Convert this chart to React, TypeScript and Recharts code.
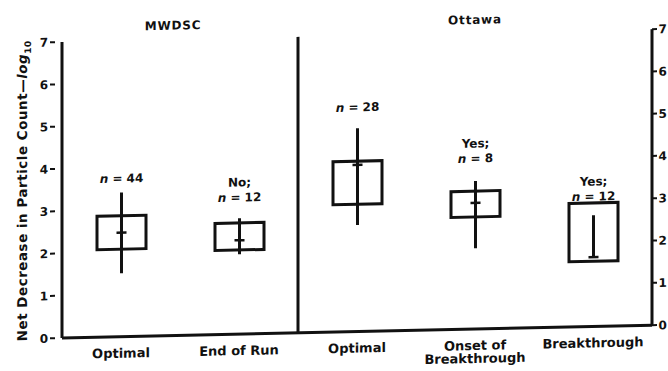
import { ComposedChart, Bar, Line, XAxis, YAxis, ReferenceLine } from "recharts";

// two sites, five operating conditions
const groups = ["MWDSC", "MWDSC", "Ottawa", "Ottawa", "Ottawa"];
const categories = ["Optimal", "End of Run", "Optimal", "Onset of\nBreakthrough", "Breakthrough"];

// log10 decrease in particle count
const boxLow = [2.07, 1.99, 3.01, 2.65, 1.54];
const boxHigh = [2.86, 2.63, 4.03, 3.26, 2.92];
const whiskerLow = [1.5, 1.89, 2.52, 1.91, 1.64];
const whiskerHigh = [3.41, 2.74, 4.81, 3.5, 2.63];
const centre = [2.46, 2.22, 3.94, 2.98, 1.64];

// annotations above each box, anchored at a log10 value
const notes = [["n = 44"], ["No;", "n = 12"], ["n = 28"], ["Yes;", "n = 8"], ["Yes;", "n = 12"]];
const noteAt = [3.75, 3.24, 5.31, 4.04, 3.08];

const yTicks = [0, 1, 2, 3, 4, 5, 6, 7];

const FONT = "'DejaVu Sans', 'Liberation Sans', Arial, sans-serif";
const INK = "#111";

const data = categories.map((c, i) => ({
  key: `${groups[i]} ${c}`,
  box: [boxLow[i], boxHigh[i]],
  lo: whiskerLow[i],
  hi: whiskerHigh[i],
  mid: centre[i],
  note: notes[i],
  noteAt: noteAt[i],
}));

function NoteLine({ text, x, y }: { text: string; x: number; y: number }) {
  // italic "n" like the original
  if (text.startsWith("n ")) {
    return (
      <text x={x} y={y} textAnchor="middle" fontFamily={FONT} fontSize={12} fontWeight="bold" fill={INK}>
        <tspan fontStyle="italic">n</tspan>
        {text.slice(1)}
      </text>
    );
  }
  return (
    <text x={x} y={y} textAnchor="middle" fontFamily={FONT} fontSize={12} fontWeight="bold" fill={INK}>
      {text}
    </text>
  );
}

function BoxShape(props: any) {
  const { x, y, width, height, payload } = props;
  const [lo, hi] = payload.box;
  const top = Math.min(y, y + height);
  const h = Math.abs(height);
  const ppu = h / (hi - lo);
  const toY = (v: number) => top + (hi - v) * ppu;
  const cx = x + width / 2;
  const lines: string[] = payload.note;
  const base = toY(payload.noteAt) + 4.4;

  return (
    <g>
      <rect x={x} y={top} width={width} height={h} fill="none" stroke={INK} strokeWidth={3} />
      <line x1={cx} x2={cx} y1={toY(payload.hi)} y2={toY(payload.lo)} stroke={INK} strokeWidth={3} />
      <line x1={cx - 5} x2={cx + 5} y1={toY(payload.mid)} y2={toY(payload.mid)} stroke={INK} strokeWidth={2.5} />
      {lines.map((t, i) => (
        <NoteLine key={t} text={t} x={cx} y={base - (lines.length - 1 - i) * 15} />
      ))}
    </g>
  );
}

function XTick(props: any) {
  const { x, y, index } = props;
  const lines = categories[index].split("\n");
  return (
    <g>
      {lines.map((t, i) => (
        <text
          key={t}
          x={x}
          y={y + 21 + i * 13}
          textAnchor="middle"
          fontFamily={FONT}
          fontSize={13}
          fontWeight="bold"
          fill={INK}
        >
          {t}
        </text>
      ))}
    </g>
  );
}

function LeftTick(props: any) {
  const { x, y, payload } = props;
  return (
    <g>
      <line x1={x - 12} x2={x - 7} y1={y} y2={y} stroke={INK} strokeWidth={2} />
      <text x={x - 14} y={y + 4.4} textAnchor="end" fontFamily={FONT} fontSize={12} fontWeight="bold" fill={INK}>
        {payload.value}
      </text>
    </g>
  );
}

function RightTick(props: any) {
  const { x, y, payload } = props;
  return (
    <g>
      <line x1={x} x2={x + 5} y1={y} y2={y} stroke={INK} strokeWidth={2} />
      <text x={x + 6.5} y={y + 4.4} textAnchor="start" fontFamily={FONT} fontSize={12} fontWeight="bold" fill={INK}>
        {payload.value}
      </text>
    </g>
  );
}

function YTitle() {
  return (
    <text
      transform="translate(26.5,190) rotate(-90)"
      textAnchor="middle"
      fontFamily={FONT}
      fontSize={13.5}
      fontWeight="bold"
      letterSpacing={0.5}
      fill={INK}
    >
      Net Decrease in Particle Count—<tspan fontStyle="italic">log</tspan>
      <tspan fontSize={9} dy={4}>
        10
      </tspan>
    </text>
  );
}

const titleStyle: React.CSSProperties = {
  position: "absolute",
  top: 22,
  transform: "translateX(-50%)",
  fontFamily: FONT,
  fontSize: 12,
  lineHeight: "12px",
  fontWeight: "bold",
  letterSpacing: 0.8,
  color: INK,
  whiteSpace: "nowrap",
};

export default function App() {
  return (
    <div
      style={{
        position: "absolute",
        left: 0,
        top: 0,
        width: 668,
        height: 371,
        overflow: "hidden",
        background: "#fff",
      }}
    >
      {/* the scan is sheared slightly; the whole figure leans up to the right */}
      <div
        style={{
          position: "relative",
          width: 668,
          height: 390,
          transform: "skewY(-1.25deg)",
          transformOrigin: "62px 338px",
        }}
      >
        <div style={{ ...titleStyle, left: 173 }}>MWDSC</div>
        <div style={{ ...titleStyle, left: 475, top: 23 }}>Ottawa</div>
        <ComposedChart width={668} height={390} data={data} margin={{ top: 42, right: 0, bottom: 0, left: 0 }}>
          <XAxis
            dataKey="key"
            height={52}
            interval={0}
            tickSize={0}
            tickMargin={0}
            axisLine={{ stroke: INK, strokeWidth: 3 }}
            tickLine={false}
            tick={<XTick />}
          />
          <YAxis
            yAxisId="left"
            width={62}
            domain={[0, 7]}
            ticks={yTicks}
            tickSize={0}
            tickMargin={0}
            axisLine={{ stroke: INK, strokeWidth: 3 }}
            tickLine={false}
            tick={<LeftTick />}
            label={{ content: () => <YTitle /> }}
          />
          <YAxis
            yAxisId="right"
            orientation="right"
            width={16}
            domain={[0, 7]}
            ticks={yTicks}
            tickSize={0}
            tickMargin={0}
            axisLine={{ stroke: INK, strokeWidth: 3 }}
            tickLine={false}
            tick={<RightTick />}
          />
          <ReferenceLine
            yAxisId="left"
            x={data[2].key}
            position="start"
            stroke={INK}
            strokeWidth={3}
          />
          <Bar yAxisId="left" dataKey="box" barSize={49} shape={<BoxShape />} isAnimationActive={false} />
          {/* keeps the right-hand scale attached to the same data */}
          <Line
            yAxisId="right"
            dataKey="mid"
            stroke="none"
            dot={false}
            activeDot={false}
            legendType="none"
            isAnimationActive={false}
          />
        </ComposedChart>
      </div>
    </div>
  );
}
